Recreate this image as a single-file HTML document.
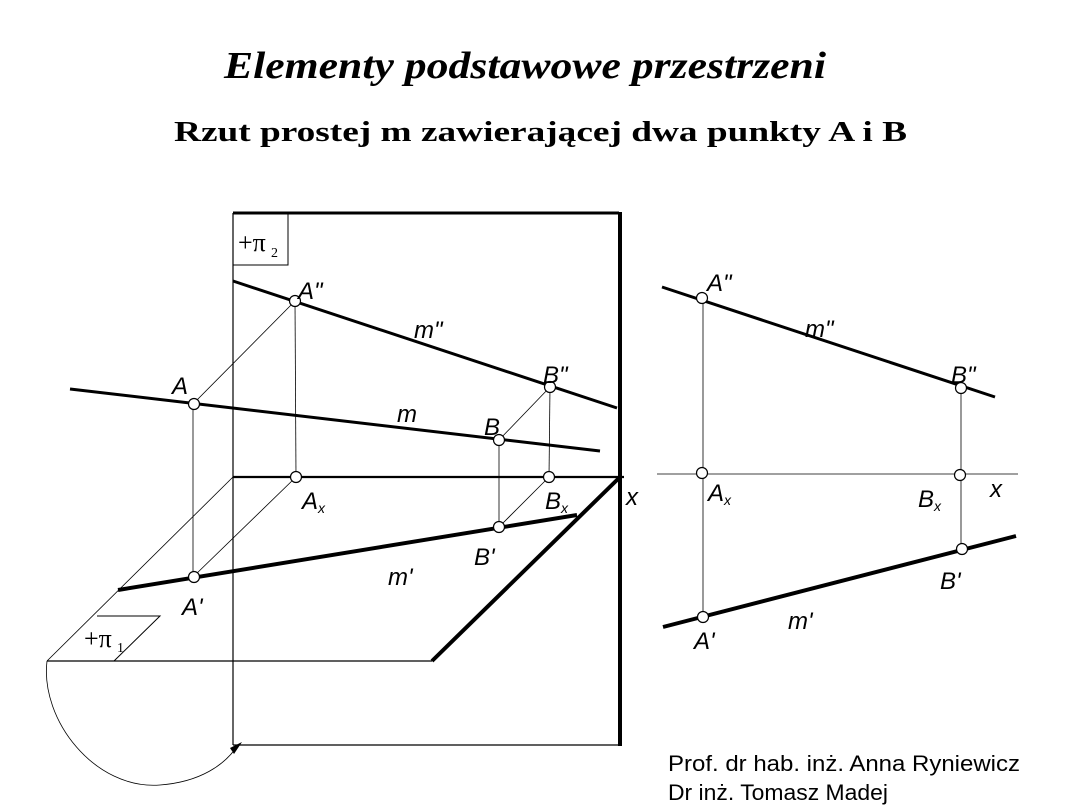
<!DOCTYPE html>
<html><head><meta charset="utf-8"><style>
html,body{margin:0;padding:0;background:#fff;}
svg{display:block;}
.l{font-family:"Liberation Sans",sans-serif;font-style:italic;font-size:24px;fill:#000;}
.s{font-family:"Liberation Sans",sans-serif;font-style:italic;font-size:14px;fill:#000;}
</style></head><body>
<svg width="1080" height="810" viewBox="0 0 1080 810" xmlns="http://www.w3.org/2000/svg">
<text x="224" y="78" font-family="Liberation Serif,serif" font-style="italic" font-weight="bold" font-size="38" textLength="602" lengthAdjust="spacingAndGlyphs">Elementy podstawowe przestrzeni</text>
<text x="174" y="141" font-family="Liberation Serif,serif" font-weight="bold" font-size="29" textLength="733" lengthAdjust="spacingAndGlyphs">Rzut prostej m zawierającej dwa punkty A i B</text>

<g fill="none" stroke="#000">
<line x1="233" y1="213" x2="619" y2="213" stroke-width="3"/>
<line x1="620" y1="212" x2="620" y2="746" stroke-width="4"/>
<line x1="233" y1="213" x2="233" y2="745" stroke-width="1.2"/>
<line x1="233" y1="745" x2="620" y2="745" stroke-width="1.2"/>
<line x1="233" y1="477" x2="624" y2="477" stroke-width="2.2"/>
<polyline points="233,265 288,265 288,213" stroke-width="1"/>
<line x1="233" y1="477" x2="47" y2="661" stroke-width="0.8"/>
<line x1="47" y1="661" x2="432" y2="661" stroke-width="1.2"/>
<line x1="432" y1="661" x2="619" y2="478" stroke-width="4"/>
<polyline points="97,616 160,616 114,661" stroke-width="1"/>
<path d="M47,661 C 40,720 95,790 160,785 C 200,782 225,765 238,745" stroke-width="0.8"/>
</g>
<polygon points="242,742 230,748 234,754" fill="#000"/>
<text x="238" y="251" font-family="Liberation Serif,serif" font-size="26">+π</text><text x="271" y="257" font-family="Liberation Serif,serif" font-size="14">2</text>
<text x="84" y="647" font-family="Liberation Serif,serif" font-size="26">+π</text><text x="117" y="652" font-family="Liberation Serif,serif" font-size="14">1</text>

<g stroke="#000" fill="none">
<line x1="233" y1="281" x2="617" y2="408" stroke-width="3"/>
<line x1="70" y1="389" x2="600" y2="451" stroke-width="3"/>
<line x1="118" y1="590" x2="577" y2="515" stroke-width="4"/>
<g stroke-width="0.8">
<line x1="193" y1="404" x2="193" y2="577"/>
<line x1="295" y1="301" x2="296" y2="477"/>
<line x1="499" y1="440" x2="499" y2="527"/>
<line x1="550" y1="387" x2="549" y2="477"/>
<line x1="295" y1="301" x2="193" y2="404"/>
<line x1="550" y1="387" x2="499" y2="440"/>
<line x1="296" y1="477" x2="193" y2="577"/>
<line x1="549" y1="477" x2="499" y2="527"/>
</g>
</g>
<g fill="#fff" stroke="#000" stroke-width="1.2">
<circle cx="295" cy="301" r="5.5"/><circle cx="550" cy="387" r="5.5"/>
<circle cx="194" cy="404" r="5.5"/><circle cx="499" cy="440" r="5.5"/>
<circle cx="296" cy="477" r="5.5"/><circle cx="549" cy="477" r="5.5"/>
<circle cx="194" cy="577" r="5.5"/><circle cx="499" cy="527" r="5.5"/>
</g>
<text class="l" x="298" y="299">A"</text>
<text class="l" x="414" y="338">m"</text>
<text class="l" x="543" y="383">B"</text>
<text class="l" x="172" y="394">A</text>
<text class="l" x="397" y="422">m</text>
<text class="l" x="484" y="435">B</text>
<text class="l" x="302" y="509">A</text><text class="s" x="318" y="513">x</text>
<text class="l" x="545" y="509">B</text><text class="s" x="561" y="513">x</text>
<text class="l" x="626" y="505">x</text>
<text class="l" x="474" y="565">B'</text>
<text class="l" x="388" y="585">m'</text>
<text class="l" x="182" y="615">A'</text>

<g stroke="#000" fill="none">
<line x1="657" y1="474" x2="1018" y2="474" stroke-width="0.8"/>
<line x1="662" y1="287" x2="995" y2="397" stroke-width="3"/>
<line x1="663" y1="627" x2="1016" y2="536" stroke-width="4"/>
<line x1="703" y1="298" x2="703" y2="617" stroke-width="0.8"/>
<line x1="961" y1="388" x2="961" y2="549" stroke-width="0.8"/>
</g>
<g fill="#fff" stroke="#000" stroke-width="1.2">
<circle cx="702" cy="298" r="5.5"/><circle cx="702" cy="473" r="5.5"/><circle cx="703" cy="617" r="5.5"/>
<circle cx="961" cy="388" r="5.5"/><circle cx="960" cy="475" r="5.5"/><circle cx="962" cy="549" r="5.5"/>
</g>
<text class="l" x="707" y="291">A"</text>
<text class="l" x="805" y="337">m"</text>
<text class="l" x="951" y="383">B"</text>
<text class="l" x="708" y="501">A</text><text class="s" x="724" y="505">x</text>
<text class="l" x="918" y="507">B</text><text class="s" x="934" y="511">x</text>
<text class="l" x="990" y="497">x</text>
<text class="l" x="940" y="589">B'</text>
<text class="l" x="788" y="629">m'</text>
<text class="l" x="694" y="649">A'</text>

<text x="668" y="771" font-family="Liberation Sans,sans-serif" font-size="22" textLength="352" lengthAdjust="spacingAndGlyphs">Prof. dr hab. inż. Anna Ryniewicz</text>
<text x="668" y="800" font-family="Liberation Sans,sans-serif" font-size="22" textLength="220" lengthAdjust="spacingAndGlyphs">Dr inż. Tomasz Madej</text>
</svg>
</body></html>
